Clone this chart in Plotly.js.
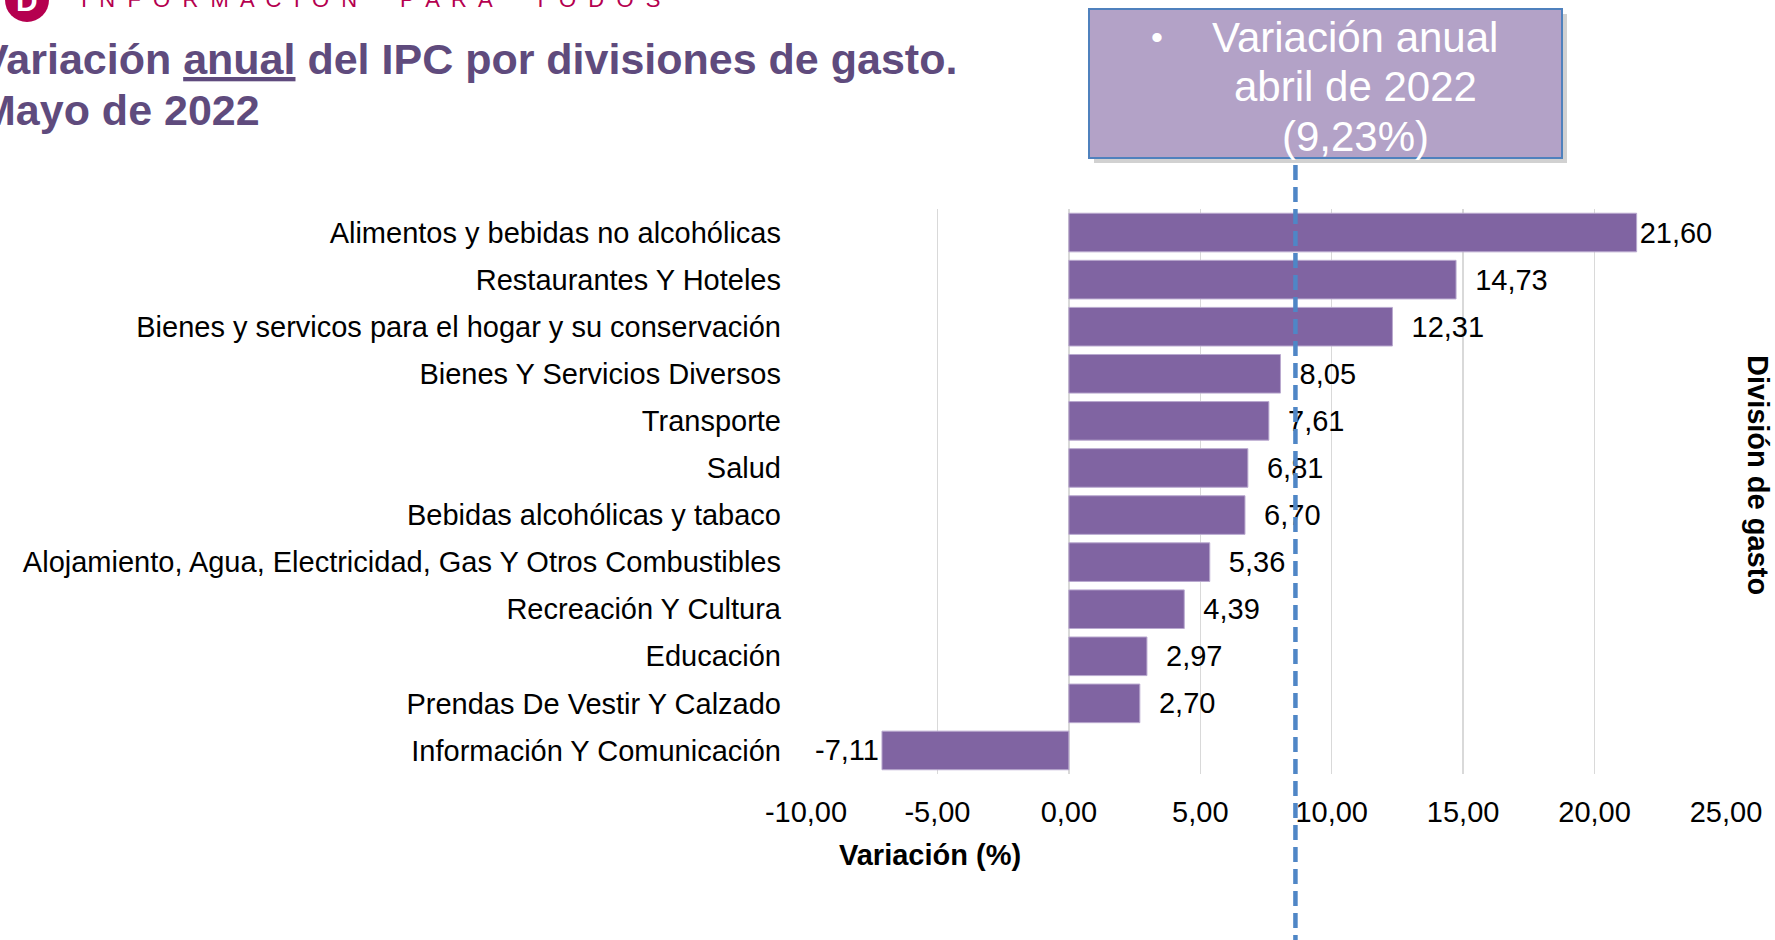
<!DOCTYPE html>
<html>
<head>
<meta charset="utf-8">
<script src="https://cdn.plot.ly/plotly-3.0.1.min.js"></script>
<style>html,body{margin:0;padding:0;background:#fff;}#chart{width:1775px;height:940px;}</style>
</head>
<body>
<div id="chart"></div>
<script>
// ---- Data ----
const categories = [
  "Alimentos y bebidas no alcohólicas",
  "Restaurantes Y Hoteles",
  "Bienes y servicos para el hogar y su conservación",
  "Bienes Y Servicios Diversos",
  "Transporte",
  "Salud",
  "Bebidas alcohólicas y tabaco",
  "Alojamiento, Agua, Electricidad, Gas Y Otros Combustibles",
  "Recreación Y Cultura",
  "Educación",
  "Prendas De Vestir Y Calzado",
  "Información Y Comunicación"
];
const values = [21.60, 14.73, 12.31, 8.05, 7.61, 6.81, 6.70, 5.36, 4.39, 2.97, 2.70, -7.11];
const xTickVals = [-10, -5, 0, 5, 10, 15, 20, 25];
const referenceLineX = 8.62;   // position of dashed line as drawn
const boxLines = ["Variación anual", "abril de 2022", "(9,23%)"];

// ---- Layout geometry (pixels) ----
const W = 1775, H = 940;
const L = 806, R = 1726, T = 209, B = 774;
const px = x => (x - L) / (R - L);
const py = y => (B - y) / (B - T);

const FONT = "Liberation Sans, Arial, sans-serif";
const fmt = v => v.toFixed(2).replace('.', ',');
const labels = values.map(v => (v > 0 && v < 20 ? '  ' : '') + fmt(v));
const xTickText = xTickVals.map(fmt);

const trace = {
  type: 'bar',
  orientation: 'h',
  y: categories,
  x: values,
  text: labels,
  textposition: 'outside',
  cliponaxis: false,
  textfont: {family: FONT, size: 29, color: '#000'},
  marker: {color: '#8064a2', line: {color: '#b9a9cf', width: 1}},
  hoverinfo: 'skip'
};

const boxX0 = 1089, boxX1 = 1562, boxY0 = 9, boxY1 = 158;

const layout = {
  width: W, height: H,
  margin: {l: L, r: W - R, t: T, b: H - B, pad: 0},
  paper_bgcolor: '#fff', plot_bgcolor: '#fff',
  showlegend: false,
  bargap: 0.18,
  font: {family: FONT, size: 29, color: '#000'},
  separators: ',.',
  xaxis: {
    range: [-10, 25],
    tickvals: xTickVals,
    ticktext: xTickText,
    showgrid: true, gridcolor: '#d9d9d9', gridwidth: 1.5,
    zeroline: false, showline: false,
    ticks: '', ticklabelstandoff: 18,
    tickfont: {family: FONT, size: 29, color: '#000'},
    fixedrange: true
  },
  yaxis: {
    autorange: 'reversed',
    type: 'category',
    showgrid: false, zeroline: false, showline: false,
    ticks: '', ticklabelstandoff: 24,
    tickfont: {family: FONT, size: 29, color: '#000'},
    fixedrange: true
  },
  shapes: [
    // dashed reference line
    {type: 'line', xref: 'x', yref: 'paper', x0: referenceLineX, x1: referenceLineX,
     y0: py(H + 10), y1: py(boxY1), line: {color: '#4f86c6', width: 4.5, dash: '15px,7px'}},
    // box shadow
    {type: 'rect', xref: 'paper', yref: 'paper', x0: px(boxX0 + 5), x1: px(boxX1 + 5),
     y0: py(boxY1 + 5), y1: py(boxY0 + 5), fillcolor: 'rgba(0,0,0,0.18)', line: {width: 0}},
    // box
    {type: 'rect', xref: 'paper', yref: 'paper', x0: px(boxX0), x1: px(boxX1),
     y0: py(boxY1), y1: py(boxY0), fillcolor: '#b3a2c7', line: {color: '#4f81bd', width: 2}},
    // logo circle
    {type: 'circle', xref: 'paper', yref: 'paper', x0: px(5), x1: px(49),
     y0: py(22), y1: py(-22), fillcolor: '#b5004f', line: {width: 0}}
  ],
  annotations: [
    // header
    {xref: 'paper', yref: 'paper', x: px(79), y: py(-1), xanchor: 'left', yanchor: 'middle',
     text: 'I  N  F  O  R  M  A  C  I  Ó  N       P  A  R  A       T  O  D  O  S',
     showarrow: false, font: {family: FONT, size: 22, color: '#b5004f'}},
    {xref: 'paper', yref: 'paper', x: px(27), y: py(0), xanchor: 'center', yanchor: 'middle',
     text: '<b>D</b>', showarrow: false, font: {family: FONT, size: 30, color: '#fff'}},
    // title
    {xref: 'paper', yref: 'paper', x: px(-22), y: py(59), xanchor: 'left', yanchor: 'middle',
     text: '<b>Variación <u>anual</u> del IPC por divisiones de gasto.</b>',
     showarrow: false, font: {family: FONT, size: 43, color: '#5f4b7d'}},
    {xref: 'paper', yref: 'paper', x: px(-22), y: py(110), xanchor: 'left', yanchor: 'middle',
     text: '<b>Mayo de 2022</b>',
     showarrow: false, font: {family: FONT, size: 43, color: '#5f4b7d'}},
    // box text
    {xref: 'paper', yref: 'paper', x: px(1157), y: py(37), xanchor: 'center', yanchor: 'middle',
     text: '•', showarrow: false, font: {family: FONT, size: 34, color: '#fff'}},
    {xref: 'paper', yref: 'paper', x: px(1355), y: py(37), xanchor: 'center', yanchor: 'middle',
     text: boxLines[0], showarrow: false, font: {family: FONT, size: 42, color: '#fff'}},
    {xref: 'paper', yref: 'paper', x: px(1355), y: py(87), xanchor: 'center', yanchor: 'middle',
     text: boxLines[1], showarrow: false, font: {family: FONT, size: 42, color: '#fff'}},
    {xref: 'paper', yref: 'paper', x: px(1355), y: py(137), xanchor: 'center', yanchor: 'middle',
     text: boxLines[2], showarrow: false, font: {family: FONT, size: 42, color: '#fff'}},
    // axis titles
    {xref: 'paper', yref: 'paper', x: px(930), y: py(855), xanchor: 'center', yanchor: 'middle',
     text: '<b>Variación (%)</b>', showarrow: false, font: {family: FONT, size: 29, color: '#000'}},
    {xref: 'paper', yref: 'paper', x: px(1758), y: py(475), xanchor: 'center', yanchor: 'middle',
     text: '<b>División de gasto</b>', textangle: 90, showarrow: false,
     font: {family: FONT, size: 29, color: '#000'}}
  ]
};

Plotly.newPlot('chart', [trace], layout, {displayModeBar: false, staticPlot: true});
</script>
</body>
</html>
